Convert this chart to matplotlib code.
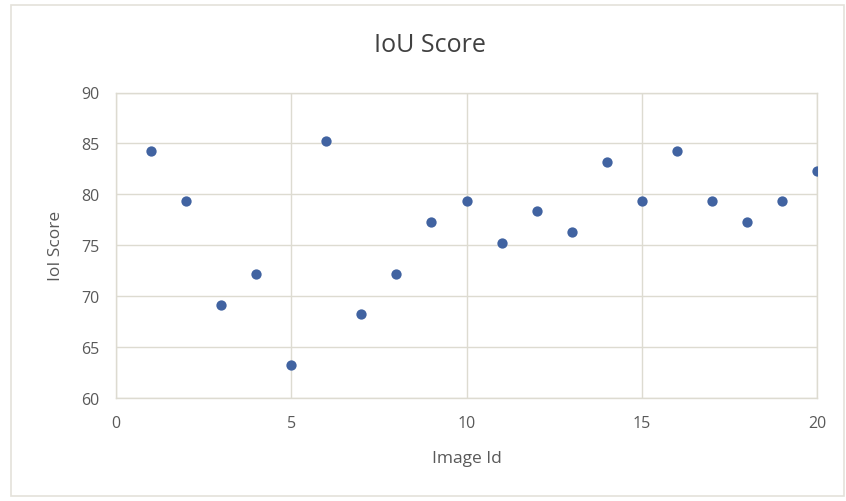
import matplotlib.pyplot as plt
from matplotlib.patches import Rectangle

## dati
image_id = [1, 2, 3, 4, 5, 6, 7, 8, 9, 10, 11, 12, 13, 14, 15, 16, 17, 18, 19, 20]
iou_score = [84.3, 79.3, 69.1, 72.2, 63.2, 85.2, 68.2, 72.2, 77.3, 79.3,
             75.2, 78.4, 76.3, 83.2, 79.3, 84.3, 79.3, 77.3, 79.3, 82.3]
x_ticks = [0, 5, 10, 15, 20]
y_ticks = [60, 65, 70, 75, 80, 85, 90]

plt.rcParams['font.family'] = ['Open Sans', 'DejaVu Sans']
grid_col = '#DDDBD1'
text_col = '#595959'

fig = plt.figure(figsize=(8.46, 5.02), dpi=100)
fig.patch.set_facecolor('white')
# bordo esterno del grafico
fig.add_artist(Rectangle((11/846, 5/502), 833/846, 491/502, transform=fig.transFigure,
                         fill=False, edgecolor='#E4E2DA', linewidth=1.2))

ax = fig.add_axes([116/846, 103/502, 701/846, 305.5/502])
ax.scatter(image_id, iou_score, s=55, color='#4163A1', zorder=3, linewidths=0)

ax.set_xlim(0, 20)
ax.set_ylim(60, 90)
ax.set_xticks(x_ticks)
ax.set_yticks(y_ticks)
ax.grid(True, color=grid_col, linewidth=1.0)
for sp in ax.spines.values():
	sp.set_color(grid_col)
	sp.set_linewidth(1.0)
ax.tick_params(length=0, labelsize=11.5, colors=text_col, pad=12)

# titolo centrato sul grafico intero, non sugli assi
fig.text(430/846, 1 - 46/502, 'IoU Score', fontsize=18, color='#404040', ha='center', va='center')
ax.set_xlabel('Image Id', fontsize=12.5, color=text_col, labelpad=14)
ax.set_ylabel('IoI Score', fontsize=12.5, color=text_col, labelpad=12)

fig.savefig('out.png', dpi=100)
